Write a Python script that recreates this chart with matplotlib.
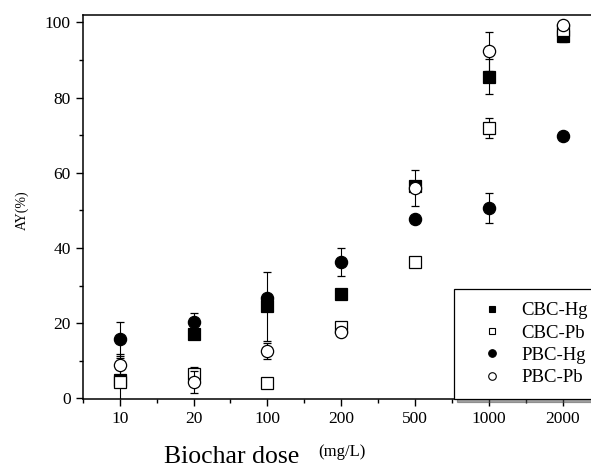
import numpy as np
import matplotlib
matplotlib.use('Agg')
import matplotlib.pyplot as plt
from matplotlib.ticker import MultipleLocator
from matplotlib.lines import Line2D

plt.rcParams['font.family'] = ['Liberation Serif', 'DejaVu Serif']

doses = ['10', '20', '100', '200', '500', '1000', '2000']

cbc_hg = [4.8, 17.1, 24.5, 27.7, 56.5, 85.6, 96.3]
cbc_hg_err = [6.0, 0.5, 9.2, 1.0, 1.0, 4.6, 1.5]

cbc_pb = [4.3, 6.4, 4.2, 18.9, 36.2, 72.0, 98.0]
cbc_pb_err = [0.5, 2.0, 0.8, 0.6, 0.6, 2.7, 0.8]

pbc_hg = [15.8, 20.2, 26.6, 36.3, 47.7, 50.6, 69.9]
pbc_hg_err = [4.5, 2.4, 1.0, 3.8, 0.5, 4.0, 0.5]

pbc_pb = [9.0, 4.3, 12.6, 17.7, 55.9, 92.3, 99.4]
pbc_pb_err = [2.7, 3.0, 2.0, 0.8, 4.8, 5.1, 1.0]

series = [
    ('CBC-Hg', cbc_hg, cbc_hg_err, 's', 'black'),
    ('CBC-Pb', cbc_pb, cbc_pb_err, 's', 'white'),
    ('PBC-Hg', pbc_hg, pbc_hg_err, 'o', 'black'),
    ('PBC-Pb', pbc_pb, pbc_pb_err, 'o', 'white'),
]

fig = plt.figure(figsize=(5.91, 4.68), dpi=100)
ax = fig.add_axes([0.140, 0.1464, 0.875, 0.8216])

x = np.arange(len(doses))
handles = []
for i, (name, vals, err, mk, fc) in enumerate(series):
    ms = 8.8 if mk == 'o' else 8.0
    ax.errorbar(x, vals, yerr=err, fmt=mk, ms=ms,
                mfc=fc, mec='black', mew=0.9, ecolor='black',
                elinewidth=0.8, capsize=2.9, capthick=0.8,
                zorder=3 + i)
    # legend shows the marker only, no error bar
    handles.append(Line2D([], [], ls='none', marker=mk, ms=ms * 0.62,
                          mfc=fc, mec='black', mew=0.8, label=name))

ax.set_xlim(-0.5, 6.5)
ax.set_ylim(-0.3, 102)
ax.set_xticks(x)
ax.set_xticklabels(doses)
ax.xaxis.set_minor_locator(MultipleLocator(0.5))
ax.yaxis.set_major_locator(MultipleLocator(20))
ax.yaxis.set_minor_locator(MultipleLocator(10))
ax.tick_params(which='major', direction='out', length=5, width=1, labelsize=12.5)
ax.tick_params(which='minor', direction='out', length=3, width=1)
ax.tick_params(axis='x', which='minor', bottom=True)
for s in ax.spines.values():
    s.set_linewidth(1.1)

leg = ax.legend(handles=handles, loc='lower left',
                bbox_to_anchor=(0.718, 0.0, 0.4, 0.3), mode='expand',
                borderaxespad=0, frameon=True, fancybox=False, shadow=True,
                edgecolor='black', fontsize=13.5,
                labelspacing=0.28, handletextpad=0.3, borderpad=0.7,
                handlelength=2.6)
leg.get_frame().set_linewidth(0.9)

fig.text(22 / 591, 1 - 210 / 468, 'AY(%)', rotation=90, ha='center',
         va='center', fontsize=10)
fig.text(232 / 591, 5 / 468, 'Biochar dose', ha='center', va='baseline',
         fontsize=18.5)
fig.text(318 / 591, 12 / 468, '(mg/L)', ha='left', va='baseline', fontsize=12)

fig.savefig('out.png', dpi=100)
